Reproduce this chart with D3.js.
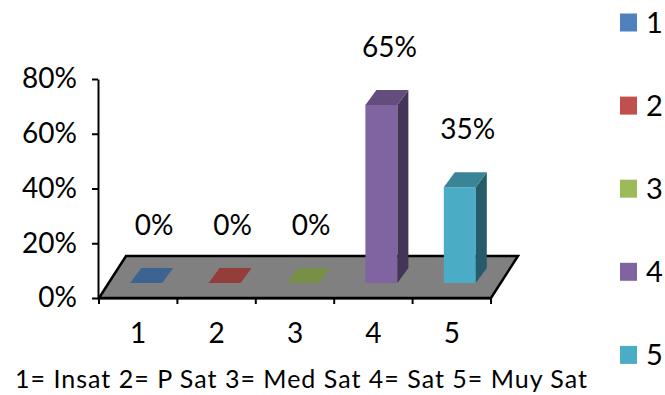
<!DOCTYPE html>
<html>
<head>
<meta charset="utf-8">
<script src="https://cdn.jsdelivr.net/npm/d3@7"></script>
<style>
	body { margin: 0; background: #fff; }
	svg { display: block; font-family: Lato, "Open Sans", sans-serif; }
</style>
</head>
<body>
<svg id="chart" width="665" height="395"></svg>
<script>
var categories = ['1', '2', '3', '4', '5'];
var values = [0, 0, 0, 0.65, 0.35];
var barColors = ['#4F81BD', '#C0504D', '#9BBB59', '#8064A2', '#4BACC6'];
var yTicks = [0, 0.2, 0.4, 0.6, 0.8];
var legendLabels = ['1', '2', '3', '4', '5'];
var note = '1= Insat 2= P Sat 3= Med Sat 4= Sat 5= Muy Sat';

var svg = d3.select('#chart');

var x = d3.scaleBand().domain(categories).range([99, 491]);
var y = d3.scaleLinear().domain([0, 0.8]).range([298, 79]);

// 3d offsets: floor depth, where the bars sit, bar depth
var floorDx = 27, floorDy = -42,
	barFx = 8, barFy = -15,
	barDx = 11, barDy = -15,
	barW = 32;

function shade(c, k) {
	var col = d3.rgb(c);
	return d3.rgb(col.r * k, col.g * k, col.b * k).formatHex();
}

// floor
var y0 = y(0), xl = x.range()[0], xr = x.range()[1];
svg.append('polygon')
	.attr('points', [[xl, y0], [xl + floorDx, y0 + floorDy], [xr + floorDx, y0 + floorDy], [xr, y0]].join(' '))
	.attr('fill', '#808080')
	.attr('stroke', '#000')
	.attr('stroke-width', 2.5)
	.attr('stroke-linejoin', 'miter');

// bars
var bars = svg.append('g').selectAll('g.bar')
	.data(categories.map(function(c, i) { return {cat: c, v: values[i], color: barColors[i]}; }))
	.enter().append('g').classed('bar', true);

bars.each(function(d) {
	var g = d3.select(this),
		cx = x(d.cat) + x.bandwidth() / 2 + barFx,
		l = cx - barW / 2, r = cx + barW / 2,
		b = y0 + barFy, t = y(d.v) + barFy;
	if (d.v > 0) {
		g.append('polygon')
			.attr('points', [[l, b], [l, t], [r, t], [r, b]].join(' '))
			.attr('fill', d.color);
		g.append('polygon')
			.attr('points', [[r, b], [r, t], [r + barDx, t + barDy], [r + barDx, b + barDy]].join(' '))
			.attr('fill', shade(d.color, 0.53));
	}
	g.append('polygon')
		.attr('points', [[l, t], [l + barDx, t + barDy], [r + barDx, t + barDy], [r, t]].join(' '))
		.attr('fill', shade(d.color, 0.77));
	g.append('text')
		.attr('x', cx + 8)
		.attr('y', t - 48)
		.attr('text-anchor', 'middle')
		.attr('font-size', 28)
		.attr('fill', '#000')
		.text(d3.format('.0%')(d.v));
});

// y axis
var yAxis = svg.append('g')
	.attr('transform', 'translate(98,0)')
	.call(d3.axisLeft(y).tickValues(yTicks).tickFormat(d3.format('.0%')).tickSize(6).tickSizeOuter(0).tickPadding(15));
yAxis.selectAll('path, line').attr('stroke', '#000').attr('stroke-width', 2);
yAxis.selectAll('text').attr('font-size', 28).attr('font-family', 'Lato').attr('fill', '#000');

// x axis
var xAxis = svg.append('g')
	.attr('transform', 'translate(0,' + y0 + ')')
	.call(d3.axisBottom(x).tickSize(0).tickPadding(25));
xAxis.select('path').attr('stroke', '#000').attr('stroke-width', 2);
xAxis.selectAll('text').attr('font-size', 28).attr('font-family', 'Lato').attr('fill', '#000');
xAxis.selectAll('line.edge')
	.data(categories.map(function(c) { return x(c); }).concat([xr]))
	.enter().append('line')
	.classed('edge', true)
	.attr('x1', function(d) { return d; })
	.attr('x2', function(d) { return d; })
	.attr('y1', 0)
	.attr('y2', 6)
	.attr('stroke', '#000')
	.attr('stroke-width', 2);

// note under the axis
svg.append('text')
	.attr('x', 15)
	.attr('y', 388)
	.attr('font-size', 25)
	.attr('textLength', 572)
	.attr('lengthAdjust', 'spacing')
	.attr('fill', '#000')
	.text(note);

// legend
var legend = svg.append('g').selectAll('g')
	.data(legendLabels)
	.enter().append('g')
	.attr('transform', function(d, i) { return 'translate(620,' + (22.5 + i * 83.1) + ')'; });
legend.append('rect')
	.attr('x', 0)
	.attr('y', -9)
	.attr('width', 17)
	.attr('height', 18)
	.attr('fill', function(d, i) { return barColors[i]; });
legend.append('text')
	.attr('x', 26)
	.attr('y', 0)
	.attr('dy', '0.36em')
	.attr('font-size', 29)
	.attr('fill', '#000')
	.text(function(d) { return d; });
</script>
</body>
</html>
